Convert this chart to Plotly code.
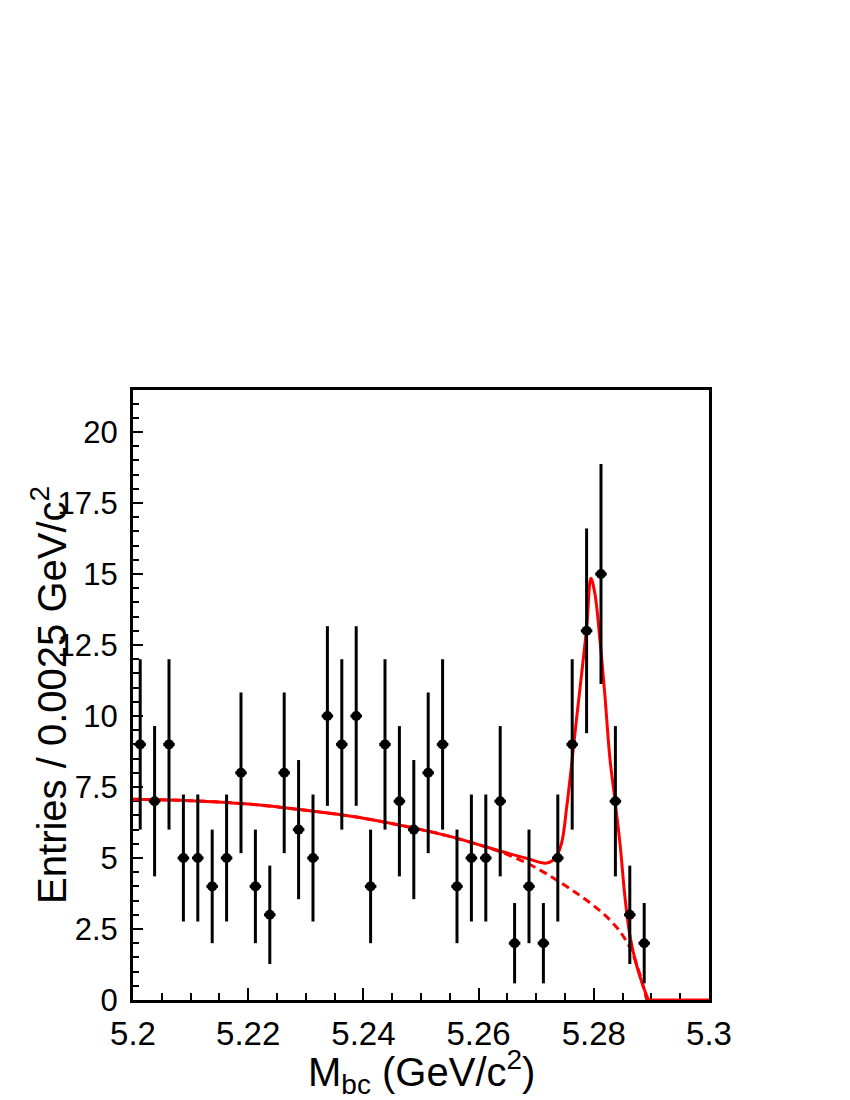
"""
plot.py
M_bc distribution with ARGUS background + signal fit, drawn in the ROOT style.
"""

import numpy as np
import plotly.graph_objects as go

# binned data (bin width 0.0025 GeV/c^2)
bin_centers = [5.20125, 5.20375, 5.20625, 5.20875, 5.21125, 5.21375, 5.21625, 5.21875,
               5.22125, 5.22375, 5.22625, 5.22875, 5.23125, 5.23375, 5.23625, 5.23875,
               5.24125, 5.24375, 5.24625, 5.24875, 5.25125, 5.25375, 5.25625, 5.25875,
               5.26125, 5.26375, 5.26625, 5.26875, 5.27125, 5.27375, 5.27625, 5.27875,
               5.28125, 5.28375, 5.28625, 5.28875]
counts = [9, 7, 9, 5, 5, 4, 5, 8, 4, 3, 8, 6, 5, 10, 9, 10, 4, 9,
          7, 6, 8, 9, 4, 5, 5, 7, 2, 4, 2, 5, 9, 13, 15, 7, 3, 2]

# fit curves
bkg_x = [5.200, 5.210, 5.220, 5.230, 5.240, 5.250, 5.255, 5.260, 5.264, 5.268,
         5.272, 5.276, 5.278, 5.280, 5.282, 5.284, 5.285, 5.286, 5.287, 5.288,
         5.2886, 5.2892]
bkg_y = [7.07, 7.02, 6.90, 6.68, 6.40, 6.00, 5.76, 5.47, 5.20, 4.86,
         4.42, 3.90, 3.62, 3.32, 2.98, 2.55, 2.28, 1.95, 1.50, 0.90,
         0.47, 0.0]

total_x = [5.200, 5.210, 5.220, 5.230, 5.240, 5.250, 5.255, 5.260, 5.2637, 5.2683,
           5.2718, 5.2733, 5.2744, 5.2753, 5.2761, 5.2770, 5.2779, 5.2788, 5.2795,
           5.2802, 5.2811, 5.2819, 5.2828, 5.2837, 5.2846, 5.2854, 5.2863, 5.2875,
           5.2886, 5.2895]
total_y = [7.07, 7.02, 6.90, 6.68, 6.40, 6.00, 5.76, 5.47, 5.25, 4.99,
           4.82, 4.99, 5.52, 6.80, 8.20, 9.90, 11.50, 13.20, 14.85,
           14.30, 12.60, 10.80, 8.50, 7.00, 5.40, 3.64, 2.23, 1.17,
           0.47, 0.0]

# beyond the kinematic endpoint both curves sit at zero
tail_x = [5.2892, 5.300]
tail_y = [0.0, 0.0]

errors = np.sqrt(counts)

FONT = "Liberation Sans, Arial, Helvetica, sans-serif"
RED = "#ff0000"

fig = go.Figure()
fig.add_trace(go.Scatter(x=bkg_x, y=bkg_y, mode="lines", line_shape="spline",
                         line=dict(color=RED, width=3, dash="8px,5px"), hoverinfo="skip"))
fig.add_trace(go.Scatter(x=tail_x, y=tail_y, mode="lines",
                         line=dict(color=RED, width=3), hoverinfo="skip"))
fig.add_trace(go.Scatter(x=total_x, y=total_y, mode="lines", line_shape="spline",
                         line=dict(color=RED, width=3), hoverinfo="skip"))
fig.add_trace(go.Scatter(
    x=bin_centers, y=counts, mode="markers",
    marker=dict(color="black", size=10, symbol="circle"),
    error_y=dict(type="data", array=errors, color="black", thickness=3, width=0),
    error_x=dict(type="constant", value=0.001, color="black", thickness=3, width=0),
))

fig.update_layout(
    width=842, height=1092,
    showlegend=False,
    paper_bgcolor="white", plot_bgcolor="white",
    margin=dict(l=125, r=141, t=382, b=100),
    font=dict(family=FONT, color="black"),
    xaxis=dict(
        range=[5.2, 5.3], dtick=0.02, tick0=5.2,
        ticks="inside", ticklen=12, tickwidth=2, tickcolor="black",
        minor=dict(dtick=0.005, ticks="inside", ticklen=7, tickwidth=2, tickcolor="black"),
        showline=True, linewidth=3, linecolor="black", mirror=True,
        showgrid=False, zeroline=False, layer="below traces",
        tickfont=dict(size=33), ticklabelstandoff=2,
    ),
    yaxis=dict(
        range=[0, 21.48], dtick=2.5, tick0=0,
        ticks="inside", ticklen=10, tickwidth=2, tickcolor="black",
        minor=dict(dtick=0.5, ticks="inside", ticklen=6, tickwidth=2, tickcolor="black"),
        showline=True, linewidth=3, linecolor="black", mirror=True,
        showgrid=False, zeroline=False, layer="below traces",
        tickfont=dict(size=31), ticklabelstandoff=6,
    ),
    annotations=[
        dict(text="M<sub>bc</sub> (GeV/c<sup>2</sup>)", xref="paper", yref="paper",
             x=0.5, y=-0.118, xanchor="center", yanchor="middle",
             showarrow=False, font=dict(size=40)),
        dict(text="Entries / 0.0025 GeV/c<sup>2</sup>", xref="paper", yref="paper",
             x=-0.146, y=0.5, xanchor="center", yanchor="middle", textangle=-90,
             showarrow=False, font=dict(size=40)),
    ],
)

fig.write_html("out.html")
